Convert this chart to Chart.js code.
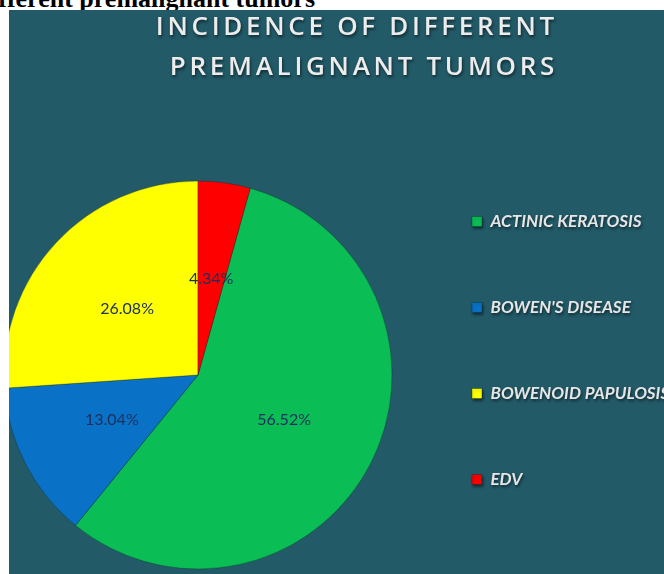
<!DOCTYPE html>
<html>
<head>
<meta charset="utf-8">
<script src="https://cdn.jsdelivr.net/npm/chart.js@4.4.1/dist/chart.umd.min.js"></script>
<style>
html, body { margin: 0; padding: 0; background: #fff; overflow: hidden; }
body { width: 664px; height: 574px; position: relative; }
#caption { position: absolute; right: 349px; top: -14px; font: bold 26px/26px "Liberation Serif", "Times New Roman", serif; color: #000; white-space: nowrap; }
#panel { position: absolute; left: 9px; top: 10px; width: 655px; height: 564px; background: #225a68; overflow: hidden; }
#wrap { position: absolute; left: -16px; top: -5px; width: 680px; height: 605px; }
</style>
</head>
<body>
<div id="caption">Incidence of different premalignant tumors</div>
<div id="panel"><div id="wrap"><canvas id="pie" width="680" height="605"></canvas></div></div>
<script>
const categories = ['ACTINIC KERATOSIS', "BOWEN'S DISEASE", 'BOWENOID PAPULOSIS', 'EDV'];
const percentages = [56.52, 13.04, 26.08, 4.34];
const sliceColors = ['#0bbd55', '#0a72c6', '#ffff00', '#ff0000'];
const titleLines = ['INCIDENCE OF DIFFERENT', 'PREMALIGNANT TUMORS'];

// EDV is drawn last, so start the first slice where EDV ends (it sits right of 12 o'clock)
const total = percentages.reduce((a, b) => a + b, 0);
const startAngle = percentages[percentages.length - 1] / total * 360;

function withShadow(box, spacing, unclipRight) {
    const draw = box.draw;
    box.draw = function (area) {
        const c = this.ctx;
        const right = this.right;
        // legend text runs past the panel edge in the picture, so don't clip it to the box
        if (unclipRight) this.right = this.chart.width;
        c.save();
        c.letterSpacing = spacing;
        c.shadowColor = 'rgba(0, 0, 0, 0.55)';
        c.shadowBlur = 3;
        c.shadowOffsetX = 1;
        c.shadowOffsetY = 2;
        draw.call(this, area);
        c.restore();
        this.right = right;
    };
}

const sliceLabels = {
    id: 'sliceLabels',
    afterInit(chart) {
        withShadow(chart.titleBlock, '3.7px', false);
        withShadow(chart.legend, '0px', true);
    },
    afterDatasetsDraw(chart) {
        const c = chart.ctx;
        const meta = chart.getDatasetMeta(0);
        c.save();
        c.font = '16px Lato';
        c.fillStyle = '#1b3160';
        c.textAlign = 'center';
        c.textBaseline = 'middle';
        meta.data.forEach((arc, i) => {
            const p = arc.tooltipPosition();
            c.fillText(percentages[i].toFixed(2) + '%', p.x, p.y);
        });
        c.restore();
    }
};

const ctx = document.getElementById('pie').getContext('2d');
const chart = new Chart(ctx, {
    type: 'pie',
    plugins: [sliceLabels],
    data: {
        labels: categories,
        datasets: [{
            data: percentages,
            backgroundColor: sliceColors,
            borderColor: 'rgba(10, 40, 40, 0.35)',
            borderWidth: 1,
            radius: 194,
            hoverOffset: 0,
        }],
    },
    options: {
        responsive: false,
        animation: false,
        devicePixelRatio: 1,
        rotation: startAngle,
        layout: {
            padding: { left: 0, top: 0, right: 115, bottom: 4 },
        },
        plugins: {
            tooltip: { enabled: false },
            title: {
                display: true,
                text: titleLines,
                align: 'end',
                color: '#ececec',
                font: { family: 'Open Sans', size: 26, weight: '600', lineHeight: '40px' },
                padding: { top: 3, bottom: 56 },
            },
            legend: {
                position: 'right',
                align: 'start',
                fullSize: false,
                maxWidth: 155,
                labels: {
                    boxWidth: 10,
                    boxHeight: 10,
                    padding: 69,
                    color: '#e6e6e6',
                    font: { family: 'Lato', size: 17, style: 'italic', weight: 'bold' },
                },
            },
        },
    },
});
</script>
</body>
</html>
